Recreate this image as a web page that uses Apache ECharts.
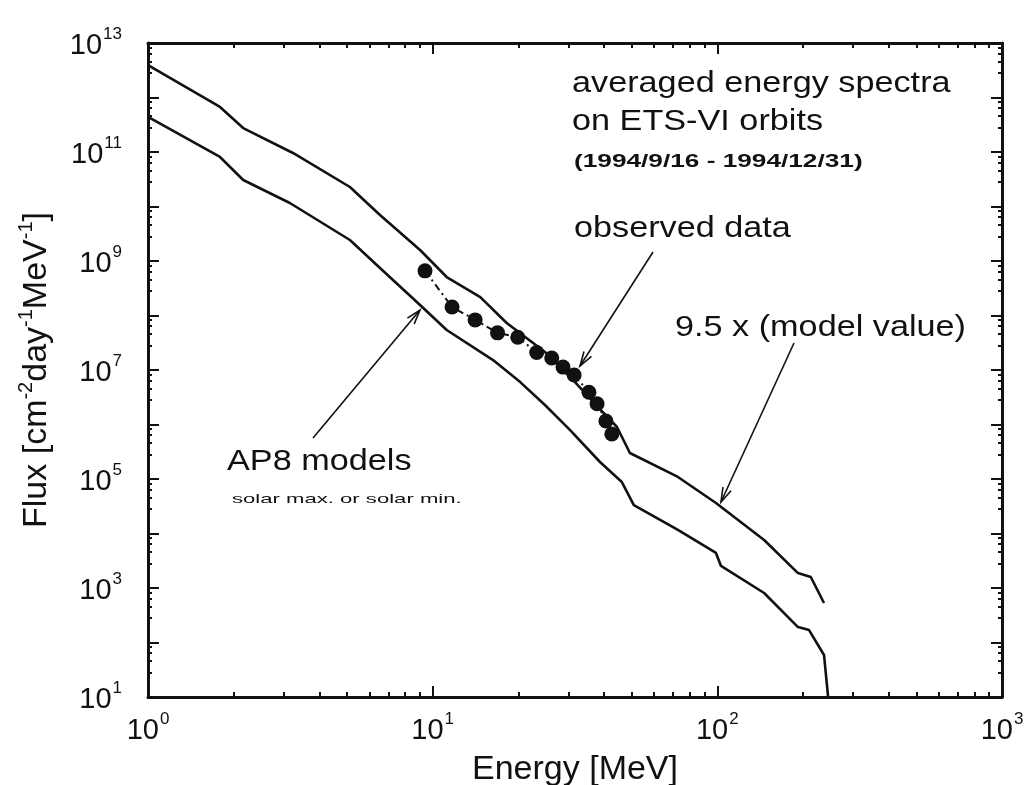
<!DOCTYPE html>
<html>
<head>
<meta charset="utf-8">
<script src="https://cdn.jsdelivr.net/npm/echarts@6/dist/echarts.min.js"></script>
<style>
html,body{margin:0;padding:0;background:#fff;}
#chart{width:1026px;height:785px;}
</style>
</head>
<body>
<div id="chart"></div>
<script>
// AP8 model (lower curve)
var modelEnergy = [1, 1.79, 2.16, 3.15, 5.12, 6.53, 9.03, 11.2, 16.3, 20.3, 24.8, 30.4, 38.7, 46.2, 50.9, 72.7, 98.9, 103, 146, 192, 210, 237, 245];
var modelFlux = [4.39e11, 8.1e10, 3.06e10, 1.16e10, 2.43e9, 7.45e8, 1.56e8, 5.42e7, 1.52e7, 6.0e6, 2.28e6, 7.9e5, 2.05e5, 8.8e4, 3.33e4, 1.16e4, 4.39e3, 2.54e3, 809, 192, 169, 59, 10];
// 9.5 x (model value) (upper curve)
var upperEnergy = [1, 1.79, 2.16, 3.23, 5.12, 6.53, 9.03, 11.2, 14.7, 18.2, 24.8, 30.4, 38.7, 44.4, 49.3, 72.7, 98.9, 146, 192, 213, 237];
var upperFlux = [3.94e12, 6.7e11, 2.75e11, 9.6e10, 2.28e10, 6.98e9, 1.59e9, 5.08e8, 2.18e8, 7.28e7, 2.14e7, 7.45e6, 1.92e6, 9.0e5, 3.0e5, 1.09e5, 3.63e4, 7.6e3, 1.88e3, 1.59e3, 531];
// observed data
var obsEnergy = [9.4, 11.7, 14.1, 16.9, 19.9, 23.2, 26.2, 28.7, 31.4, 35.4, 37.8, 40.6, 42.6];
var obsFlux = [6.6e8, 1.43e8, 8.3e7, 4.8e7, 4.0e7, 2.1e7, 1.66e7, 1.13e7, 8.1e6, 3.9e6, 2.4e6, 1.16e6, 6.7e5];
// axis
var xMin = 1, xMax = 1000;
var yMin = 10, yMax = 1e13;
var xLabelExps = [0, 1, 2, 3];
var yLabelExps = [1, 3, 5, 7, 9, 11, 13];

function pairs(xs, ys) { return xs.map(function (x, i) { return [x, ys[i]]; }); }

var FONT = '"Liberation Sans", Arial, Helvetica, sans-serif';
var supRich = {
  b: { fontSize: 29, fontFamily: FONT, color: '#111', lineHeight: 34, verticalAlign: 'bottom' },
  s: { fontSize: 17, fontFamily: FONT, color: '#111', lineHeight: 34, verticalAlign: 'top', padding: [0, 0, 0, 1] }
};
function expLabel(list) {
  return function (v) {
    var e = Math.round(Math.log10(v));
    if (list.indexOf(e) < 0) return '';
    return '{b|10}{s|' + e + '}';
  };
}

var axisLine = { show: true, lineStyle: { color: '#111', width: 3 } };
var tick = { show: true, inside: true, length: 11, lineStyle: { color: '#111', width: 2 } };
var minor = { show: true, splitNumber: 5, length: 4, lineStyle: { color: '#111', width: 2 } };
var minorX = { show: true, splitNumber: 9, length: 5, lineStyle: { color: '#111', width: 2 } };

var chart = echarts.init(document.getElementById('chart'), null, { renderer: 'canvas' });

function arrow(x1, y1, x2, y2) {
  var ang = Math.atan2(y2 - y1, x2 - x1);
  var L = 15, a = 0.3;
  var p1 = [x2 - L * Math.cos(ang - a), y2 - L * Math.sin(ang - a)];
  var p2 = [x2 - L * Math.cos(ang + a), y2 - L * Math.sin(ang + a)];
  return [
    { type: 'line', shape: { x1: x1, y1: y1, x2: x2, y2: y2 }, style: { stroke: '#111', lineWidth: 1.6 } },
    { type: 'polyline', shape: { points: [p1, [x2, y2], p2] }, style: { stroke: '#111', lineWidth: 1.6, fill: null } }
  ];
}
function txt(s, x, y, size, sx, weight) {
  return { type: 'text', x: x, y: y, scaleX: sx, style: { text: s, font: (weight || 'normal') + ' ' + size + 'px ' + FONT, fill: '#111', align: 'left', verticalAlign: 'middle' } };
}

var graphics = [].concat(
  txt('averaged energy spectra', 572, 84, 29, 1.18),
  txt('on ETS-VI orbits', 572, 122, 29, 1.18),
  txt('(1994/9/16 - 1994/12/31)', 574, 162, 19, 1.38, 'bold'),
  txt('observed data', 574, 229, 29, 1.18),
  txt('9.5 x (model value)', 675, 328, 29, 1.18),
  txt('AP8 models', 227, 462, 29, 1.18),
  txt('solar max. or solar min.', 232, 499, 13, 1.7),
  arrow(653, 252, 580, 366),
  arrow(794, 343, 721, 502),
  arrow(313, 438, 420, 310)
);

chart.setOption({
  backgroundColor: '#fff',
  animation: false,
  grid: { left: 148, right: 24, top: 43, bottom: 88, containLabel: false, outerBoundsMode: 'none' },
  xAxis: [{
    type: 'log', logBase: 10, min: xMin, max: xMax, interval: 1,
    name: 'Energy [MeV]', nameLocation: 'middle', nameGap: 56,
    nameTextStyle: { fontSize: 34, fontFamily: FONT, color: '#111' },
    axisLine: axisLine, axisTick: tick, minorTick: minorX,
    splitLine: { show: false }, minorSplitLine: { show: false },
    axisLabel: { margin: 14, formatter: expLabel(xLabelExps), rich: supRich }
  }, {
    type: 'log', logBase: 10, min: xMin, max: xMax, interval: 1, position: 'top',
    axisLine: axisLine, axisTick: tick, minorTick: minorX,
    splitLine: { show: false }, axisLabel: { show: false }
  }],
  yAxis: [{
    type: 'log', logBase: 10, min: yMin, max: yMax, interval: 1, splitNumber: 12,
    name: '{t|Flux [cm}{s|-2}{t|day}{s|-1}{t|MeV}{s|-1}{t|]}', nameLocation: 'middle', nameGap: 94,
    nameTextStyle: { rich: {
      t: { fontSize: 34, fontFamily: FONT, color: '#111', lineHeight: 38, verticalAlign: 'bottom' },
      s: { fontSize: 20, fontFamily: FONT, color: '#111', lineHeight: 38, verticalAlign: 'top' }
    } },
    axisLine: axisLine, axisTick: tick, minorTick: minor,
    splitLine: { show: false }, minorSplitLine: { show: false },
    axisLabel: { margin: 26, formatter: expLabel(yLabelExps), rich: supRich }
  }, {
    type: 'log', logBase: 10, min: yMin, max: yMax, interval: 1, splitNumber: 12, position: 'right',
    axisLine: axisLine, axisTick: tick, minorTick: minor,
    splitLine: { show: false }, axisLabel: { show: false }
  }],
  series: [{
    name: 'AP8 model', type: 'line', data: pairs(modelEnergy, modelFlux),
    showSymbol: false, symbol: 'none', smooth: false,
    lineStyle: { color: '#111', width: 2.6 }
  }, {
    name: '9.5 x model', type: 'line', data: pairs(upperEnergy, upperFlux),
    showSymbol: false, symbol: 'none',
    lineStyle: { color: '#111', width: 2.6 }
  }, {
    name: 'observed data', type: 'line', data: pairs(obsEnergy, obsFlux),
    symbol: 'circle', symbolSize: 15, showSymbol: true,
    itemStyle: { color: '#111' },
    lineStyle: { color: '#111', width: 2, type: [7, 4, 2, 4] }
  }],
  graphic: graphics
});
</script>
</body>
</html>
